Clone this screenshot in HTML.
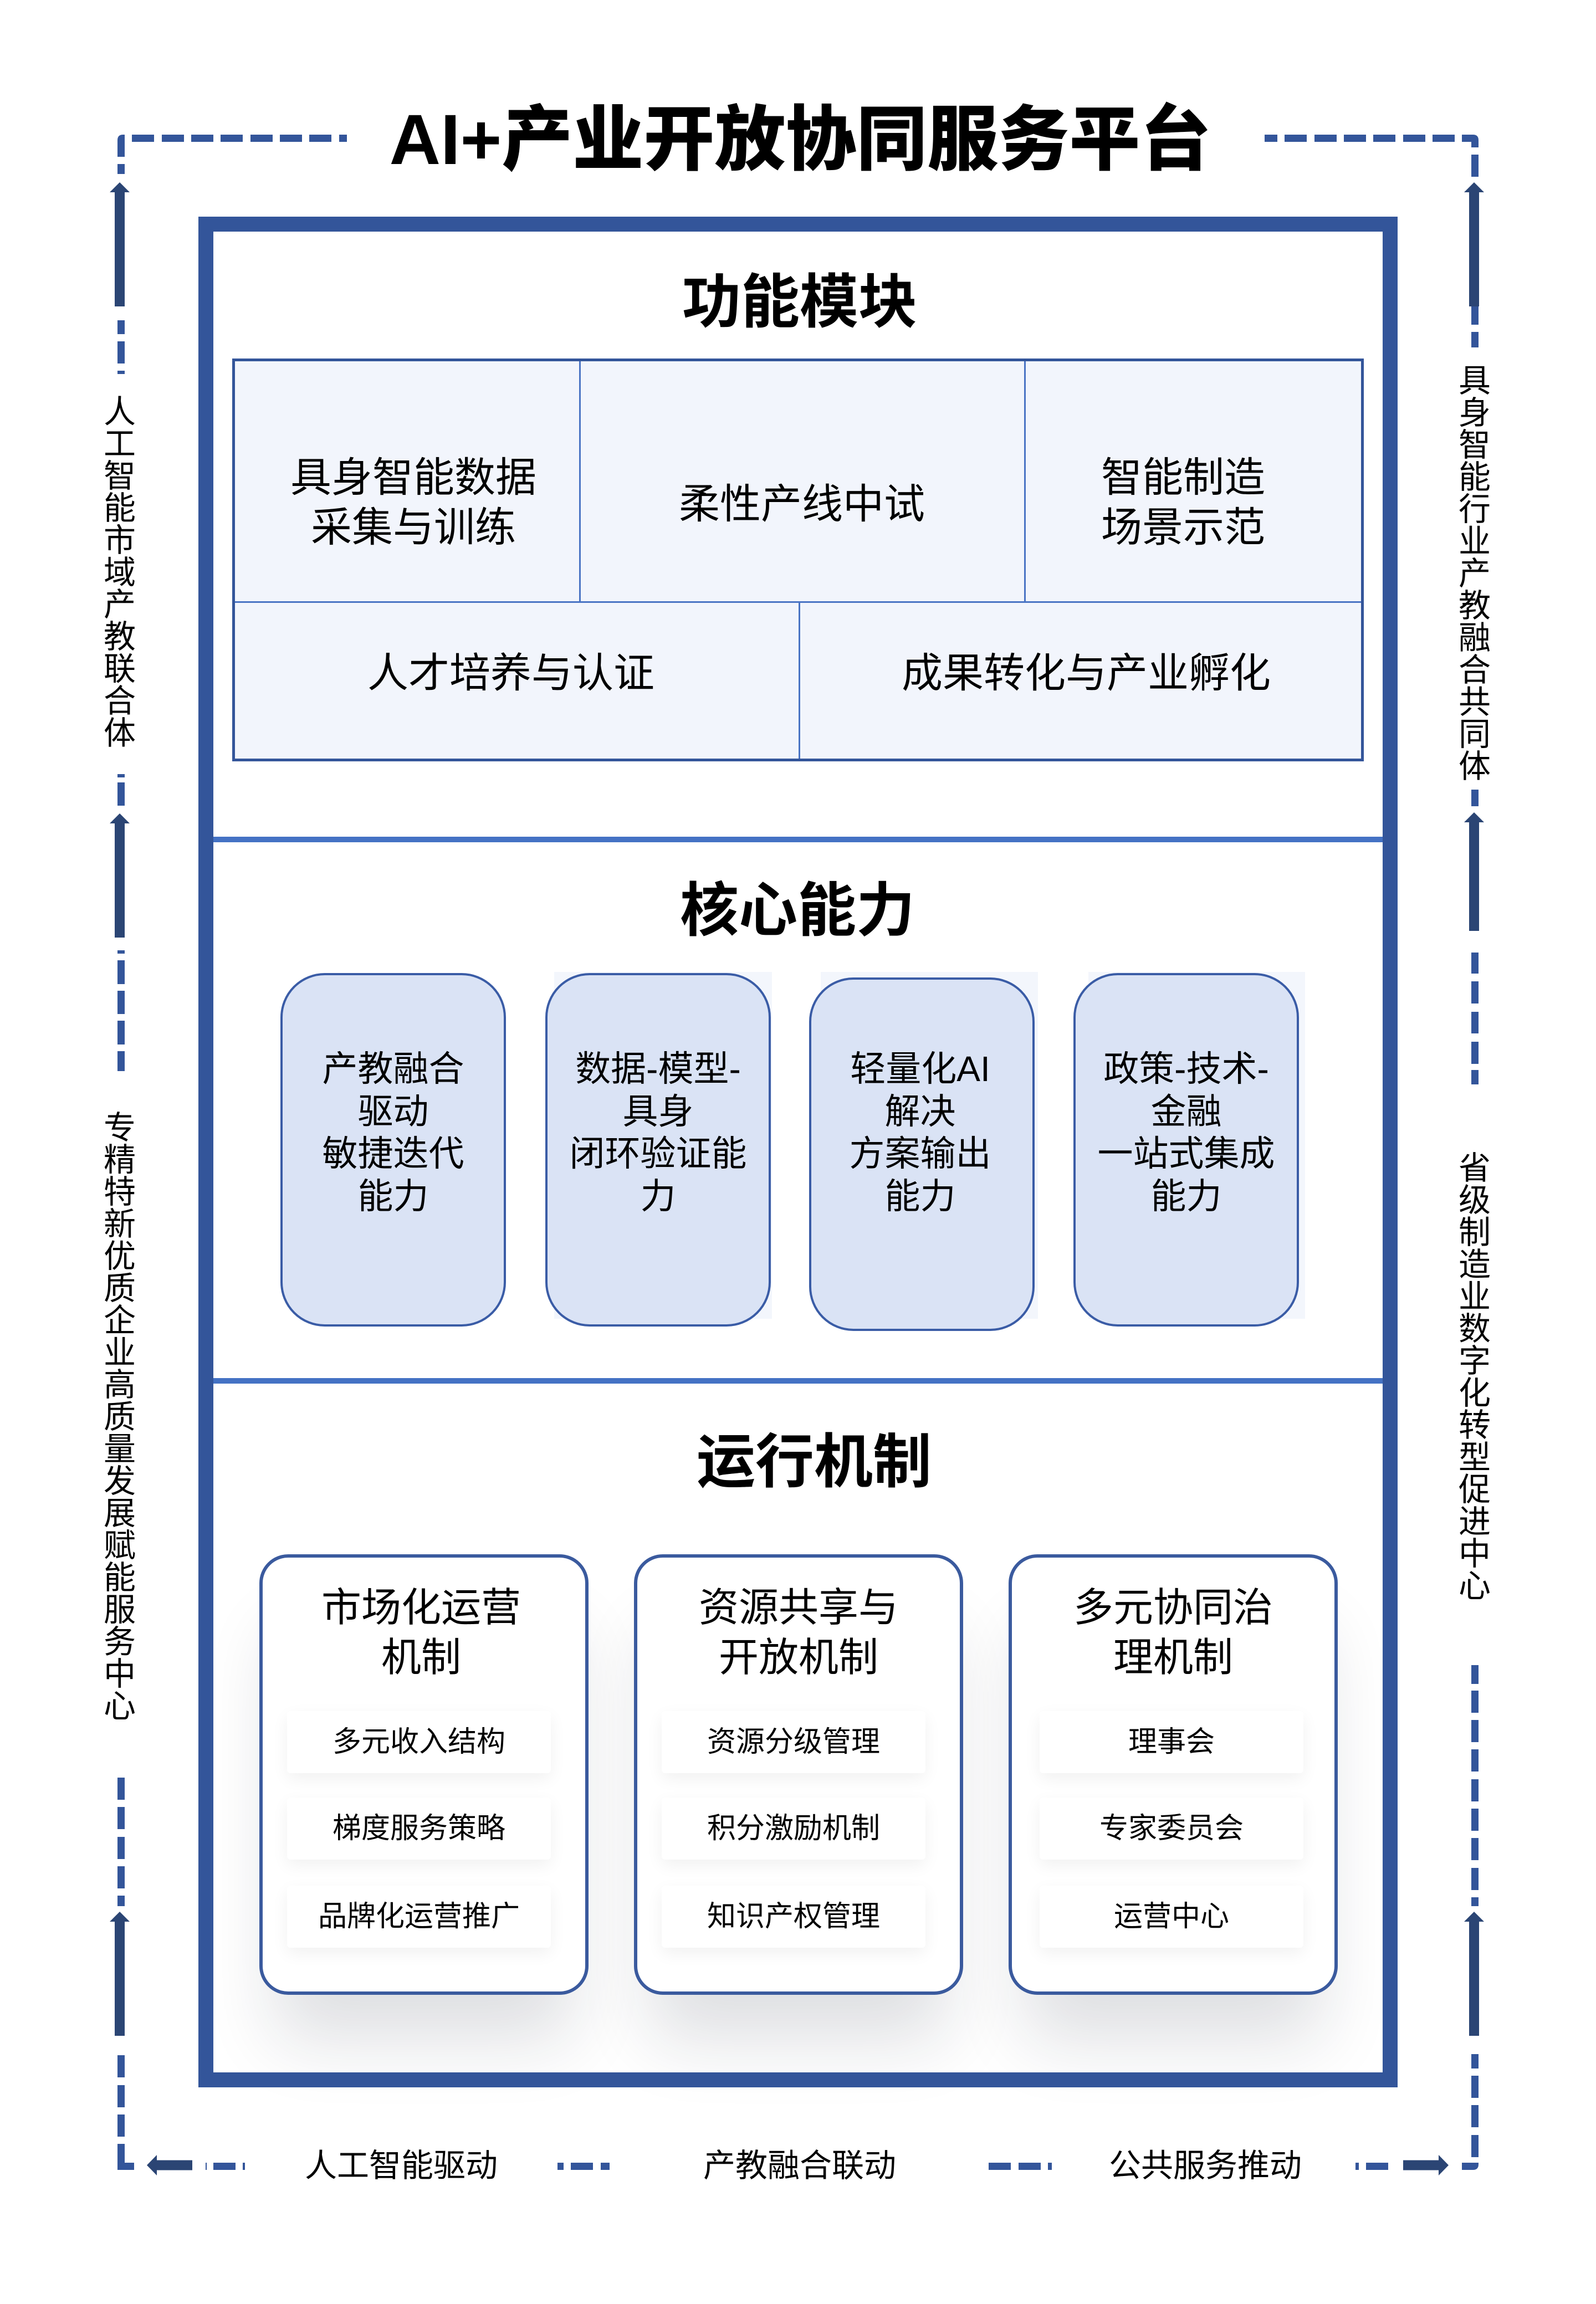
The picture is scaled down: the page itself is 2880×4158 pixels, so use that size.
<!DOCTYPE html>
<html>
<head>
<meta charset="utf-8">
<style>
  html,body{margin:0;padding:0;}
  body{width:2880px;height:4158px;position:relative;background:#fff;overflow:hidden;
       font-family:"Liberation Sans","Noto Sans CJK SC",sans-serif;color:#000;}
  .a{position:absolute;}
  .t{position:absolute;text-align:center;white-space:nowrap;}
  .vl{position:absolute;width:60px;font-size:58px;line-height:58px;text-align:center;word-break:break-all;}
  .core{position:absolute;box-sizing:border-box;width:407px;height:638px;border:4px solid #3A5CA6;
        border-radius:80px;background:#DAE3F5;z-index:2;}
  .coretxt{position:absolute;font-size:64px;line-height:76.7px;text-align:center;white-space:nowrap;z-index:3;}
  .mech{position:absolute;box-sizing:border-box;top:2805px;width:594px;height:795px;border:6px solid #3A5A9E;
        border-radius:52px;background:#fff;z-index:2;
        box-shadow:0 110px 130px -30px rgba(20,30,50,0.14);}
  .mtitle{position:absolute;font-size:72px;line-height:90px;text-align:center;white-space:nowrap;z-index:4;}
  .item{position:absolute;width:476px;height:112px;background:#fff;border-radius:6px;z-index:3;
        box-shadow:0 10px 30px rgba(0,0,0,0.06);display:flex;align-items:center;justify-content:center;
        font-size:52px;line-height:52px;white-space:nowrap;}
</style>
</head>
<body>

<!-- main white background -->
<div class="a" style="left:358px;top:391px;width:2164px;height:3376px;background:#fff;z-index:0;"></div>

<!-- section dividers -->
<div class="a" style="left:384px;top:1510px;width:2112px;height:10px;background:#4472C4;z-index:3;"></div>
<div class="a" style="left:384px;top:2487px;width:2112px;height:10px;background:#4472C4;z-index:3;"></div>

<!-- ===== Section 1: 功能模块 ===== -->
<div class="t" style="left:1143px;top:493px;width:600px;font-size:106px;line-height:106px;font-weight:bold;z-index:4;">功能模块</div>

<div class="a" style="left:419px;top:647px;width:2042px;height:727px;box-sizing:border-box;border:5px solid #33559A;background:#F2F5FC;z-index:2;"></div>
<div class="a" style="left:424px;top:1085px;width:2032px;height:3px;background:#4A74C4;z-index:3;"></div>
<div class="a" style="left:1045px;top:652px;width:3px;height:434px;background:#4A74C4;z-index:3;"></div>
<div class="a" style="left:1848px;top:652px;width:3px;height:434px;background:#4A74C4;z-index:3;"></div>
<div class="a" style="left:1441px;top:1087px;width:3px;height:282px;background:#4A74C4;z-index:3;"></div>

<div class="t" style="left:446px;top:817px;width:600px;font-size:74px;line-height:90px;z-index:4;">具身智能数据<br>采集与训练</div>
<div class="t" style="left:1147px;top:865px;width:600px;font-size:74px;line-height:90px;z-index:4;">柔性产线中试</div>
<div class="t" style="left:1835px;top:817px;width:600px;font-size:74px;line-height:90px;z-index:4;">智能制造<br>场景示范</div>
<div class="t" style="left:572px;top:1170px;width:700px;font-size:74px;line-height:90px;z-index:4;">人才培养与认证</div>
<div class="t" style="left:1560px;top:1170px;width:800px;font-size:74px;line-height:90px;z-index:4;">成果转化与产业孵化</div>

<!-- ===== Section 2: 核心能力 ===== -->
<div class="t" style="left:1139px;top:1591px;width:600px;font-size:106px;line-height:106px;font-weight:bold;z-index:4;">核心能力</div>

<!-- faint bounding rects -->
<div class="a" style="left:1000px;top:1754px;width:393px;height:626px;background:#F3F6FC;z-index:1;"></div>
<div class="a" style="left:1481px;top:1754px;width:392px;height:626px;background:#F3F6FC;z-index:1;"></div>
<div class="a" style="left:1964px;top:1754px;width:391px;height:626px;background:#F3F6FC;z-index:1;"></div>

<div class="core" style="left:506px;top:1756px;"></div>
<div class="core" style="left:984px;top:1756px;"></div>
<div class="core" style="left:1460px;top:1764px;"></div>
<div class="core" style="left:1937px;top:1756px;"></div>

<div class="coretxt" style="left:506px;top:1891px;width:407px;">产教融合<br>驱动<br>敏捷迭代<br>能力</div>
<div class="coretxt" style="left:984px;top:1891px;width:407px;">数据-模型-<br>具身<br>闭环验证能<br>力</div>
<div class="coretxt" style="left:1457px;top:1891px;width:407px;">轻量化AI<br>解决<br>方案输出<br>能力</div>
<div class="coretxt" style="left:1937px;top:1891px;width:407px;">政策-技术-<br>金融<br>一站式集成<br>能力</div>

<!-- ===== Section 3: 运行机制 ===== -->
<div class="t" style="left:1169px;top:2586px;width:600px;font-size:106px;line-height:106px;font-weight:bold;z-index:4;">运行机制</div>

<div class="mech" style="left:468px;"></div>
<div class="mech" style="left:1144px;"></div>
<div class="mech" style="left:1820px;"></div>

<div class="mtitle" style="left:463px;top:2857px;width:594px;">市场化运营<br>机制</div>
<div class="mtitle" style="left:1144px;top:2857px;width:594px;">资源共享与<br>开放机制</div>
<div class="mtitle" style="left:1820px;top:2857px;width:594px;">多元协同治<br>理机制</div>

<div class="item" style="left:518px;top:3088px;">多元收入结构</div>
<div class="item" style="left:518px;top:3244px;">梯度服务策略</div>
<div class="item" style="left:518px;top:3403px;">品牌化运营推广</div>

<div class="item" style="left:1194px;top:3088px;">资源分级管理</div>
<div class="item" style="left:1194px;top:3244px;">积分激励机制</div>
<div class="item" style="left:1194px;top:3403px;">知识产权管理</div>

<div class="item" style="left:1876px;top:3088px;">理事会</div>
<div class="item" style="left:1876px;top:3244px;">专家委员会</div>
<div class="item" style="left:1876px;top:3403px;">运营中心</div>

<!-- main frame border on top -->
<div class="a" style="left:358px;top:391px;width:2164px;height:3376px;box-sizing:border-box;border:27px solid #33559A;z-index:5;"></div>

<!-- ===== outer dashed loop + arrows ===== -->
<svg class="a" style="left:0;top:0;z-index:6;" width="2880" height="4158" viewBox="0 0 2880 4158" xmlns="http://www.w3.org/2000/svg">
  <g fill="#33559A">
    <!-- top left -->
    <path d="M212,283 V253 Q212,243 222,243 H225 V283 Z"/>
    <rect x="238" y="243" width="40" height="13"/>
    <rect x="292" y="243" width="40" height="13"/>
    <rect x="345" y="243" width="40" height="13"/>
    <rect x="398" y="243" width="40" height="13"/>
    <rect x="452" y="243" width="40" height="13"/>
    <rect x="505" y="243" width="40" height="13"/>
    <rect x="558" y="243" width="40" height="13"/>
    <rect x="612" y="243" width="14" height="13"/>
    <!-- top right -->
    <rect x="2282" y="243" width="23" height="13"/>
    <rect x="2318" y="243" width="40" height="13"/>
    <rect x="2372" y="243" width="40" height="13"/>
    <rect x="2425" y="243" width="40" height="13"/>
    <rect x="2478" y="243" width="40" height="13"/>
    <rect x="2532" y="243" width="40" height="13"/>
    <rect x="2585" y="243" width="40" height="13"/>
    <path d="M2638,243 H2658 Q2668,243 2668,253 V266 H2655 V256 H2638 Z"/>

    <!-- left vertical -->
    <rect x="212" y="296" width="13" height="18"/>
    <rect x="212" y="578" width="13" height="25"/>
    <rect x="212" y="616" width="13" height="40"/>
    <rect x="212" y="669" width="13" height="6"/>
    <rect x="212" y="1397" width="13" height="6"/>
    <rect x="212" y="1412" width="13" height="42"/>
    <rect x="212" y="1715" width="13" height="6"/>
    <rect x="212" y="1733" width="13" height="43"/>
    <rect x="212" y="1788" width="13" height="42"/>
    <rect x="212" y="1842" width="13" height="43"/>
    <rect x="212" y="1897" width="13" height="36"/>
    <rect x="212" y="3208" width="13" height="40"/>
    <rect x="212" y="3261" width="13" height="40"/>
    <rect x="212" y="3315" width="13" height="40"/>
    <rect x="212" y="3368" width="13" height="40"/>
    <rect x="212" y="3421" width="13" height="19"/>
    <rect x="212" y="3709" width="13" height="40"/>
    <rect x="212" y="3763" width="13" height="40"/>
    <rect x="212" y="3816" width="13" height="40"/>
    <path d="M212,3869 H225 V3903 H242 V3916 H212 Z"/>

    <!-- right vertical -->
    <rect x="2655" y="279" width="13" height="40"/>
    <rect x="2655" y="553" width="13" height="33"/>
    <rect x="2655" y="599" width="13" height="28"/>
    <rect x="2655" y="1425" width="13" height="30"/>
    <rect x="2655" y="1719" width="13" height="38"/>
    <rect x="2655" y="1771" width="13" height="40"/>
    <rect x="2655" y="1826" width="13" height="39"/>
    <rect x="2655" y="1880" width="13" height="40"/>
    <rect x="2655" y="1931" width="13" height="26"/>
    <rect x="2655" y="3005" width="13" height="34"/>
    <rect x="2655" y="3051" width="13" height="40"/>
    <rect x="2655" y="3104" width="13" height="40"/>
    <rect x="2655" y="3157" width="13" height="40"/>
    <rect x="2655" y="3211" width="13" height="40"/>
    <rect x="2655" y="3264" width="13" height="40"/>
    <rect x="2655" y="3317" width="13" height="40"/>
    <rect x="2655" y="3371" width="13" height="40"/>
    <rect x="2655" y="3424" width="13" height="16"/>
    <rect x="2655" y="3707" width="13" height="26"/>
    <rect x="2655" y="3746" width="13" height="40"/>
    <rect x="2655" y="3799" width="13" height="40"/>
    <rect x="2655" y="3853" width="13" height="40"/>
    <path d="M2638,3903 H2668 V3906 Q2668,3916 2658,3916 H2638 Z"/>

    <!-- bottom horizontal -->
    <rect x="371" y="3903" width="2" height="13"/>
    <rect x="385" y="3903" width="40" height="13"/>
    <rect x="438" y="3903" width="4" height="13"/>
    <rect x="1006" y="3903" width="11" height="13"/>
    <rect x="1030" y="3903" width="40" height="13"/>
    <rect x="1084" y="3903" width="16" height="13"/>
    <rect x="1784" y="3903" width="40" height="13"/>
    <rect x="1838" y="3903" width="40" height="13"/>
    <rect x="1891" y="3903" width="7" height="13"/>
    <rect x="2446" y="3903" width="6" height="13"/>
    <rect x="2465" y="3903" width="40" height="13"/>
  </g>

  <g fill="#2B4574">
    <!-- left up arrows -->
    <path d="M216,329 L234,347 L225,347 L225,553 L207,553 L207,347 L198,347 Z"/>
    <path d="M216,1468 L234,1486 L225,1486 L225,1692 L207,1692 L207,1486 L198,1486 Z"/>
    <path d="M216,3450 L234,3468 L225,3468 L225,3674 L207,3674 L207,3468 L198,3468 Z"/>
    <!-- right up arrows -->
    <path d="M2660,329 L2678,347 L2669,347 L2669,553 L2651,553 L2651,347 L2642,347 Z"/>
    <path d="M2660,1466 L2678,1484 L2669,1484 L2669,1680 L2651,1680 L2651,1484 L2642,1484 Z"/>
    <path d="M2660,3450 L2678,3468 L2669,3468 L2669,3674 L2651,3674 L2651,3468 L2642,3468 Z"/>
    <!-- bottom arrows -->
    <path d="M265,3907.5 L283,3889 L283,3898.5 L347,3898.5 L347,3916.5 L283,3916.5 L283,3926 Z"/>
    <path d="M2614,3907.5 L2596,3889 L2596,3898.5 L2532,3898.5 L2532,3916.5 L2596,3916.5 L2596,3926 Z"/>
  </g>
</svg>

<!-- main title -->
<div class="t" style="left:594px;top:189px;width:1700px;font-size:128px;line-height:128px;font-weight:900;z-index:7;">AI+产业开放协同服务平台</div>

<!-- vertical side labels -->
<div class="vl" style="left:186px;top:715px;z-index:7;">人工智能市域产教联合体</div>
<div class="vl" style="left:186px;top:2007px;z-index:7;">专精特新优质企业高质量发展赋能服务中心</div>
<div class="vl" style="left:2631px;top:659px;z-index:7;">具身智能行业产教融合共同体</div>
<div class="vl" style="left:2631px;top:2080px;z-index:7;">省级制造业数字化转型促进中心</div>

<!-- bottom labels -->
<div class="t" style="left:550px;top:3880px;width:348px;font-size:58px;line-height:58px;z-index:7;">人工智能驱动</div>
<div class="t" style="left:1269px;top:3880px;width:348px;font-size:58px;line-height:58px;z-index:7;">产教融合联动</div>
<div class="t" style="left:2001px;top:3880px;width:348px;font-size:58px;line-height:58px;z-index:7;">公共服务推动</div>

</body>
</html>
